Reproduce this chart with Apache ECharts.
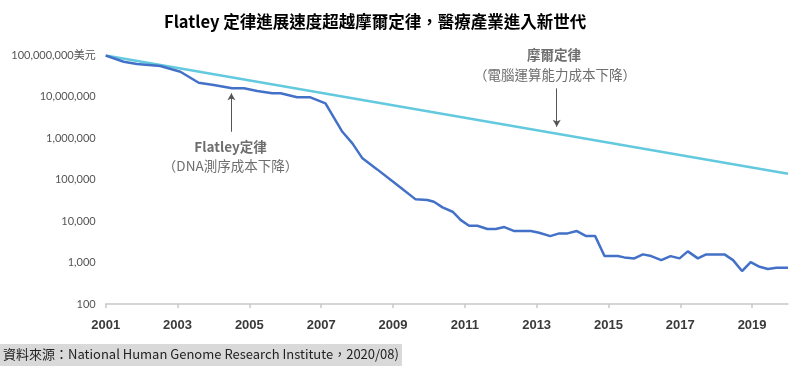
<!DOCTYPE html>
<html>
<head>
<meta charset="utf-8">
<script src="https://cdn.jsdelivr.net/npm/echarts@6/dist/echarts.min.js"></script>
<style>
html,body{margin:0;padding:0;background:#fff;}
#chart{width:800px;height:366px;}
</style>
</head>
<body>
<div id="chart"></div>
<script>
// ---- data ----
const flatleyYears = [2001.0, 2001.5, 2001.87, 2002.52, 2003.08, 2003.59, 2004.01, 2004.52, 2004.85, 2005.22,
  2005.64, 2005.87, 2006.33, 2006.70, 2007.12, 2007.59, 2007.87, 2008.15, 2008.56, 2009.12,
  2009.63, 2009.96, 2010.14, 2010.38, 2010.66, 2010.89, 2011.12, 2011.35, 2011.63, 2011.86,
  2012.10, 2012.38, 2012.84, 2013.07, 2013.38, 2013.63, 2013.86, 2014.12, 2014.38, 2014.63,
  2014.89, 2015.26, 2015.44, 2015.72, 2015.96, 2016.19, 2016.47, 2016.73, 2016.98, 2017.21,
  2017.49, 2017.72, 2018.23, 2018.47, 2018.72, 2018.96, 2019.21, 2019.44, 2019.68, 2020.0];
const flatleyCosts = [100000000, 70800000, 62400000, 55700000, 40600000, 22000000, 19400000, 16100000, 16100000, 13900000,
  12200000, 12200000, 9770000, 9770000, 7000000, 1440000, 757000, 329000, 178000, 74500,
  33600, 32400, 29500, 21500, 16900, 10600, 7750, 7750, 6450, 6450,
  7200, 5770, 5770, 5250, 4360, 5070, 5070, 5770, 4360, 4360,
  1435, 1435, 1335, 1263, 1578, 1435, 1148, 1435, 1263, 1866,
  1263, 1578, 1578, 1148, 624, 1028, 792, 697, 748, 748];
const mooreYears = [2001, 2020];
const mooreCosts = [100000000, 140000];
const xTickYears = [2001, 2003, 2005, 2007, 2009, 2011, 2013, 2015, 2017, 2019];
const titleText = 'Flatley 定律進展速度超越摩爾定律，醫療產業進入新世代';
const sourceText = '資料來源：National Human Genome Research Institute，2020/08)';
const flatleyLabel = ['Flatley定律', '（DNA測序成本下降）'];
const mooreLabel = ['摩爾定律', '（電腦運算能力成本下降）'];
// annotation arrows in data space [year, cost]
const flatleyArrow = [[2004.5, 1440000], [2004.5, 12200000]];
const mooreArrow = [[2013.56, 16100000], [2013.56, 1910000]];

function fmtNum(v) {
  const n = Math.round(v);
  return String(n).replace(/\B(?=(\d{3})+(?!\d))/g, ',');
}

const chart = echarts.init(document.getElementById('chart'), null, {renderer: 'canvas'});
const cjk = '"Noto Sans CJK TC", "Noto Sans", sans-serif';
const annColor = '#6e6e6e';

chart.setOption({
  animation: false,
  backgroundColor: '#ffffff',
  title: [{
    text: titleText,
    left: 159, top: 8,
    textStyle: {fontFamily: cjk, fontSize: 16.5, fontWeight: 'bold', color: '#000'}
  }, {
    text: sourceText,
    left: 0, bottom: 0,
    backgroundColor: '#d9d9d9',
    padding: [4, 3, 5, 3],
    textStyle: {fontFamily: cjk, fontSize: 13, fontWeight: 'normal', color: '#222'}
  }],
  grid: {left: 105.7, right: 12, top: 55.5, bottom: 62},
  xAxis: {
    type: 'value', min: 2001, max: 2020,
    splitLine: {show: false},
    axisLine: {lineStyle: {color: '#c8c8c8', width: 1.5}},
    axisTick: {customValues: xTickYears, length: 4, lineStyle: {color: '#c8c8c8', width: 1.5}},
    axisLabel: {customValues: xTickYears, formatter: v => String(Math.round(v)), margin: 15,
      fontFamily: '"Liberation Sans", Arial, sans-serif', fontWeight: 'bold', fontSize: 13, color: '#3a3a3a'}
  },
  yAxis: {
    type: 'log', logBase: 10, min: 100, max: 100000000,
    splitLine: {show: false},
    axisLine: {show: false},
    axisTick: {show: false},
    axisLabel: {
      margin: 10, fontFamily: 'Lato, "Noto Sans CJK TC", sans-serif', fontSize: 11, color: '#555',
      formatter: v => fmtNum(v) + (Math.round(v) === 100000000 ? '美元' : '')
    }
  },
  series: [{
    name: '摩爾定律', type: 'line', showSymbol: false, smooth: false,
    data: mooreYears.map((y, i) => [y, mooreCosts[i]]),
    lineStyle: {color: '#63c9de', width: 2.5},
    itemStyle: {color: '#63c9de'},
    markLine: {
      silent: true, symbol: ['none', 'arrow'], symbolSize: [6, 7],
      label: {show: false},
      lineStyle: {color: '#555', width: 1, type: 'solid'},
      data: [[{coord: mooreArrow[0]}, {coord: mooreArrow[1]}]]
    }
  }, {
    name: 'Flatley定律', type: 'line', showSymbol: false, smooth: false,
    data: flatleyYears.map((y, i) => [y, flatleyCosts[i]]),
    lineStyle: {color: '#4471c8', width: 2.5},
    itemStyle: {color: '#4471c8'},
    markLine: {
      silent: true, symbol: ['none', 'arrow'], symbolSize: [6, 7],
      label: {show: false},
      lineStyle: {color: '#555', width: 1, type: 'solid'},
      data: [[{coord: flatleyArrow[0]}, {coord: flatleyArrow[1]}]]
    }
  }],
  graphic: [
    {type: 'text', x: 230.5, y: 147, style: {text: flatleyLabel[0], fill: annColor, font: '600 13.5px ' + cjk, textAlign: 'center', textVerticalAlign: 'middle'}},
    {type: 'text', x: 230.5, y: 166, style: {text: flatleyLabel[1], fill: annColor, font: '13.5px ' + cjk, textAlign: 'center', textVerticalAlign: 'middle'}},
    {type: 'text', x: 554, y: 55, style: {text: mooreLabel[0], fill: annColor, font: '600 13.5px ' + cjk, textAlign: 'center', textVerticalAlign: 'middle'}},
    {type: 'text', x: 555, y: 75, style: {text: mooreLabel[1], fill: annColor, font: '13.5px ' + cjk, textAlign: 'center', textVerticalAlign: 'middle'}}
  ]
});
</script>
</body>
</html>
